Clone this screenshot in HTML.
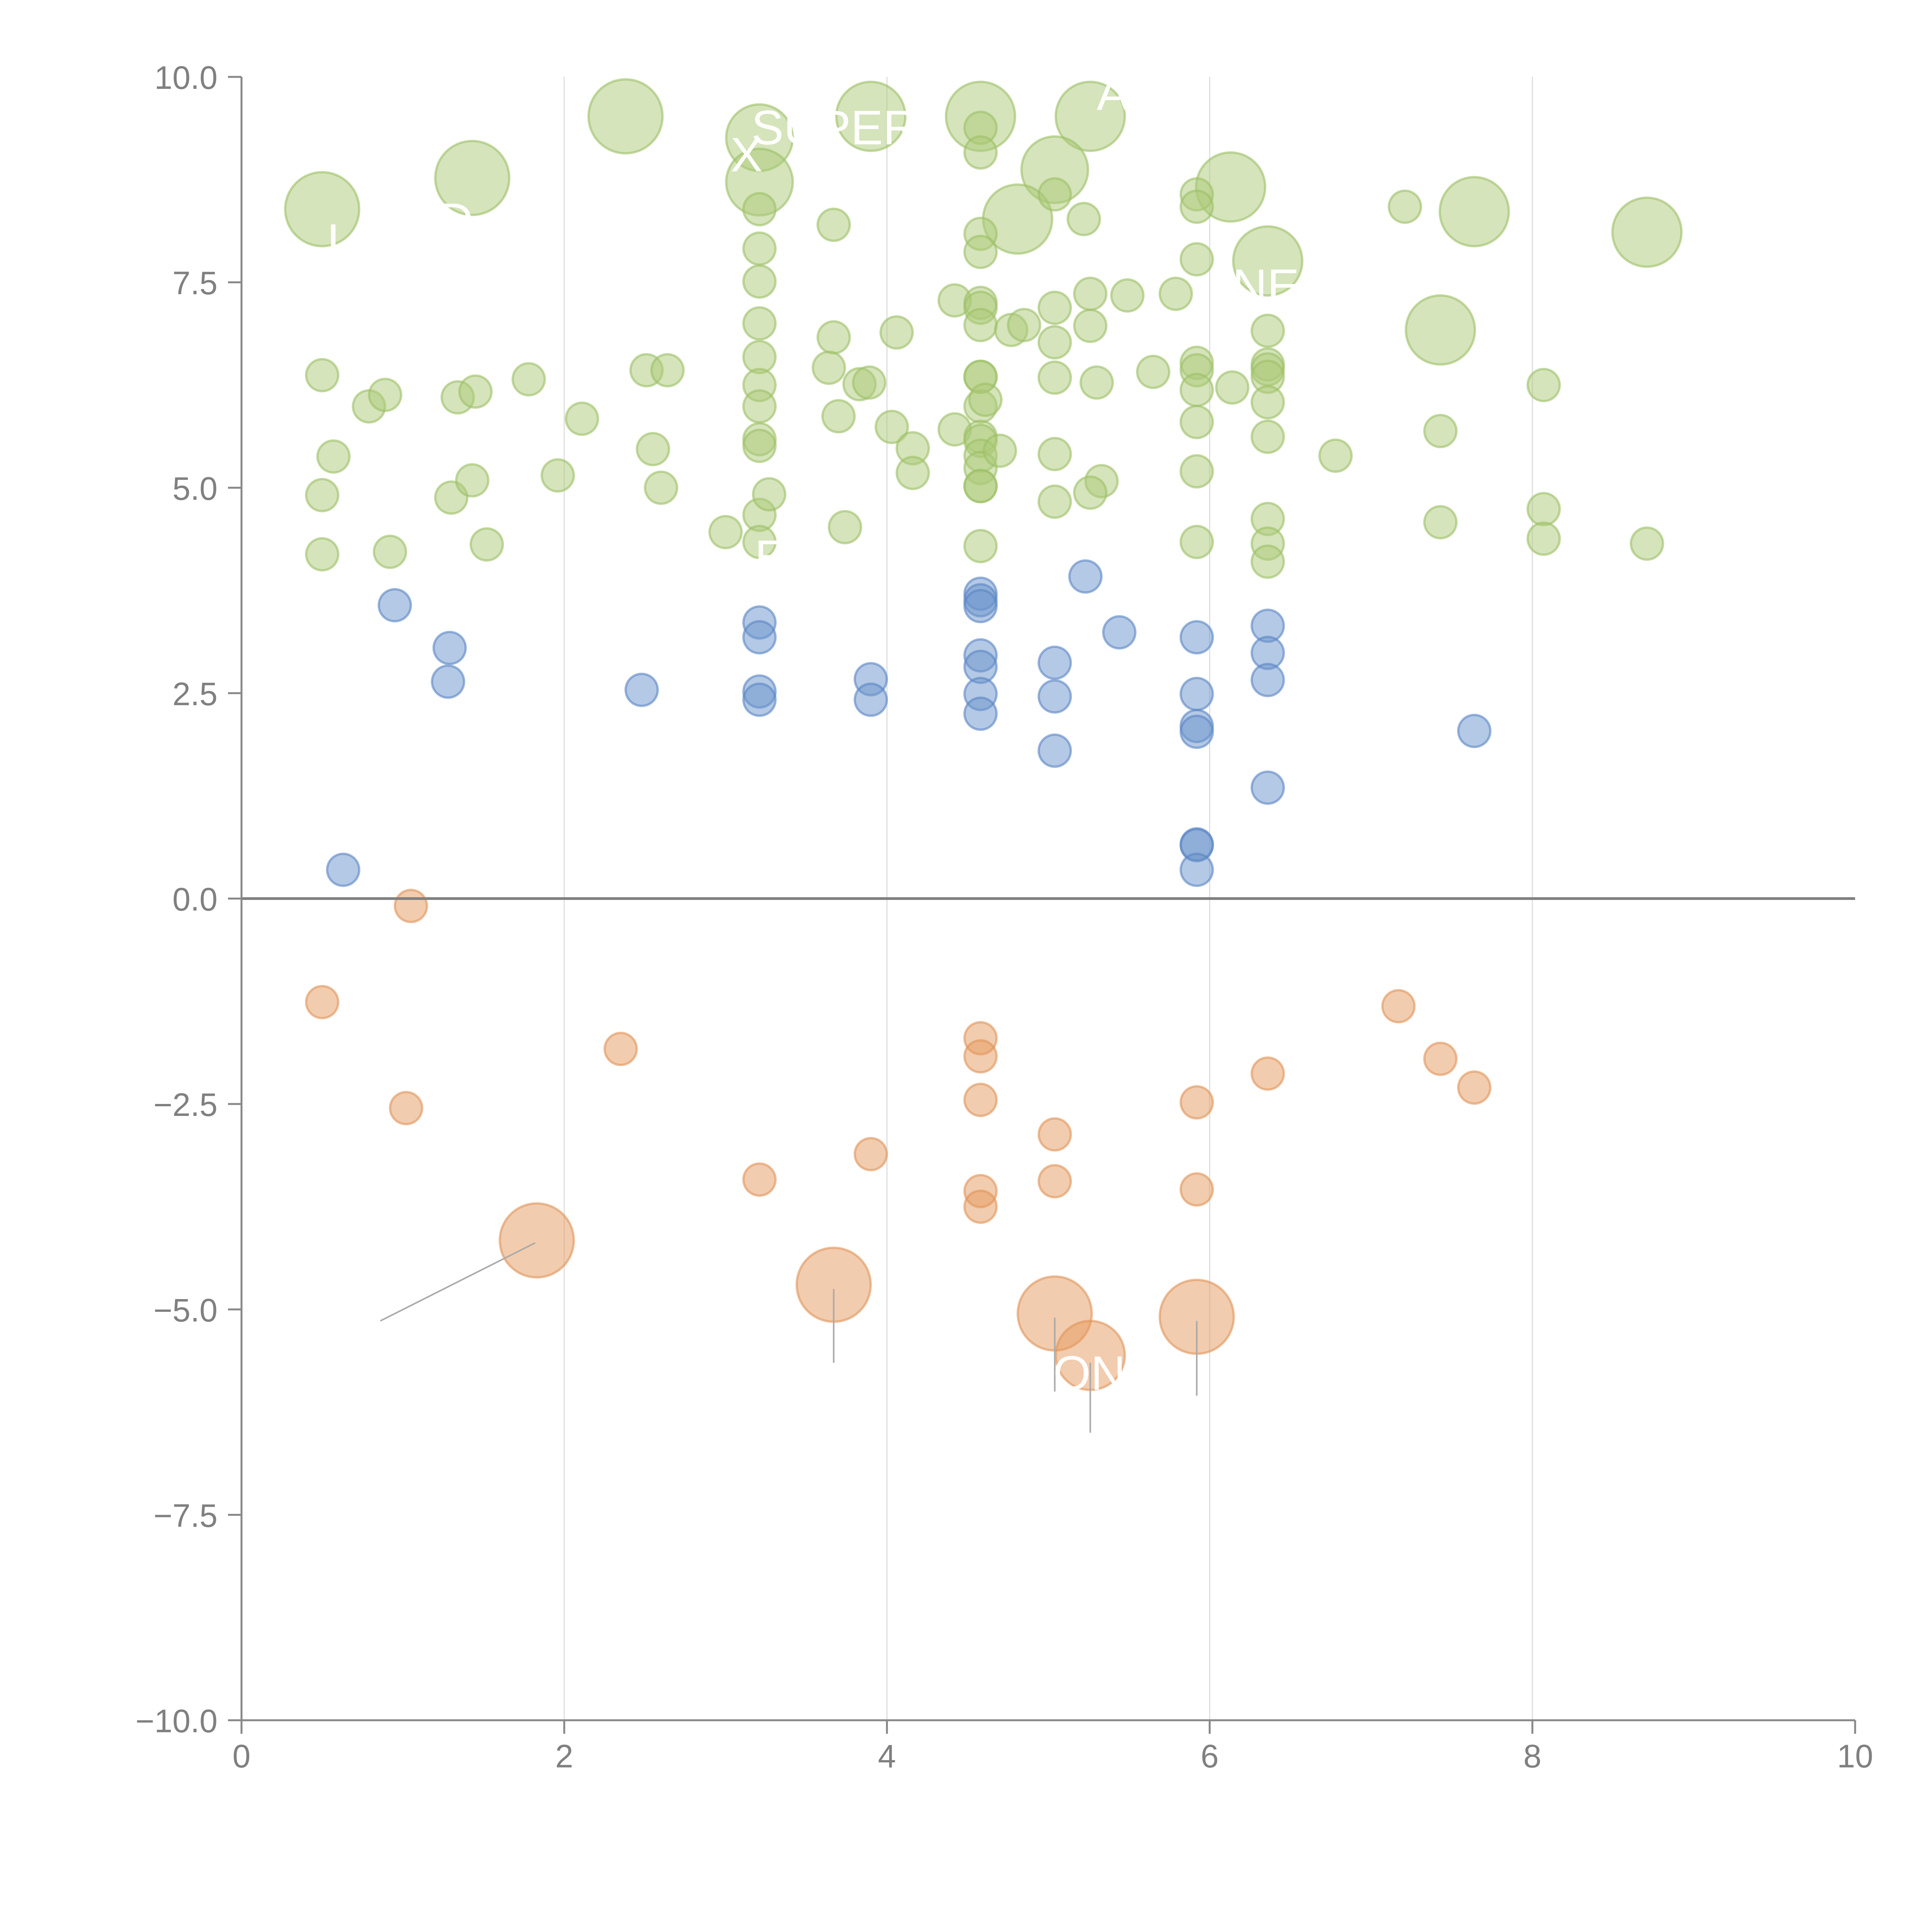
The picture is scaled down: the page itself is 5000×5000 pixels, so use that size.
<!DOCTYPE html>
<html><head><meta charset="utf-8"><style>html,body{margin:0;padding:0;background:#fff}svg{display:block}</style></head>
<body>
<svg id="chart" width="5000" height="5000" viewBox="0 0 5000 5000" xmlns="http://www.w3.org/2000/svg" font-family="Liberation Sans, Arial, sans-serif"></svg>
<script>
const xTicks=[0,2,4,6,8,10];
const xTickLabels=["0","2","4","6","8","10"];
const yTicks=[-10,-7.5,-5,-2.5,0,2.5,5,7.5,10];
const yTickLabels=["\u221210.0","\u22127.5","\u22125.0","\u22122.5","0.0","2.5","5.0","7.5","10.0"];

const greenX=[0.50,1.43,2.38,3.21,3.21,3.90,4.58,5.26,5.04,4.81,6.13,6.36,7.64,8.71,7.43,
0.50,0.57,0.50,0.50,0.79,0.89,0.92,1.30,1.34,1.43,1.45,1.52,1.78,1.96,2.11,2.51,2.64,2.55,2.60,3.00,
3.21,3.21,3.21,3.21,3.21,3.21,3.21,3.21,3.21,3.21,3.27,3.21,3.67,3.67,3.64,3.70,3.74,3.83,3.89,4.03,4.06,4.16,4.16,4.42,4.42,
4.58,4.58,4.58,4.58,4.58,4.58,4.58,4.58,4.58,4.58,4.61,4.58,4.58,4.58,4.58,4.58,4.58,4.70,4.58,4.77,4.85,
5.04,5.04,5.04,5.04,5.04,5.04,5.22,5.26,5.26,5.30,5.33,5.26,5.49,5.65,5.79,
5.92,5.92,5.92,5.92,5.92,5.92,5.92,5.92,5.92,6.14,6.36,6.36,6.36,6.36,6.36,6.36,6.36,6.36,6.36,6.78,7.21,7.43,7.43,8.07,8.07,8.07,8.71];
const greenY=[8.39,8.77,9.52,9.26,8.72,9.52,9.52,9.52,8.87,8.27,8.66,7.76,8.36,8.11,6.92,
6.37,5.38,4.91,4.19,5.99,6.13,4.22,4.88,6.10,5.09,6.17,4.31,6.32,5.15,5.84,6.43,6.43,5.47,5.00,4.46,
8.39,7.91,7.51,7.00,6.59,6.25,5.99,5.59,5.51,4.67,4.92,4.34,8.20,6.83,6.46,5.87,4.52,6.26,6.28,5.74,6.89,5.48,5.18,7.28,5.71,
9.38,9.08,8.09,7.87,7.25,7.19,6.98,6.35,6.35,5.99,6.07,5.62,5.57,5.39,5.24,5.02,5.02,5.45,4.29,6.92,6.98,
8.57,7.19,6.77,6.34,5.41,4.83,8.27,7.36,6.97,6.28,5.08,4.94,7.34,6.41,7.36,
8.57,8.42,7.78,6.52,6.43,6.19,5.80,5.20,4.34,6.22,6.91,6.50,6.44,6.35,6.04,5.62,4.62,4.32,4.10,5.39,8.42,5.69,4.58,6.25,4.74,4.38,4.32];
const greenSize=[30,30,30,27,27,28,28,28,27,28,28,28,28,28,28];

const blueX=[0.63,0.95,1.29,1.28,2.48,3.21,3.21,3.21,3.21,3.90,3.90,4.58,4.58,4.58,4.58,4.58,4.58,4.58,5.04,5.04,5.04,5.23,5.44,5.92,5.92,5.92,5.92,5.92,5.92,5.92,6.36,6.36,6.36,6.36,7.64];
const blueY=[0.35,3.57,3.05,2.64,2.54,3.36,3.18,2.52,2.42,2.67,2.42,3.71,3.63,3.56,2.96,2.82,2.49,2.25,2.87,2.46,1.80,3.92,3.24,3.18,2.49,2.10,2.03,0.66,0.65,0.35,3.32,2.99,2.66,1.35,2.04];

const orangeX=[1.05,0.50,1.02,2.35,3.21,3.90,4.58,4.58,4.58,4.58,4.58,5.04,5.04,5.92,5.92,6.36,7.17,7.43,7.64,1.83,3.67,5.04,5.26,5.92];
const orangeY=[-0.09,-1.26,-2.55,-1.83,-3.42,-3.11,-1.70,-1.92,-2.45,-3.56,-3.75,-2.87,-3.44,-2.48,-3.54,-2.13,-1.31,-1.95,-2.30,-4.16,-4.70,-5.05,-5.56,-5.09];
const orangeSize=[13,13,13,13,13,13,13,13,13,13,13,13,13,13,13,13,13,13,13,30,30,30,28,30];

const NS="http://www.w3.org/2000/svg";
const svg=document.getElementById('chart');
const X0=625,X1=4801,Y0=4452,Y1=199;
function sx(v){return X0+(v-0)/(10-0)*(X1-X0);}
function sy(v){return Y0-(v+10)/20*(Y0-Y1);}
function rs(s){return s*3.19;}
function mk(tag,attrs){const e=document.createElementNS(NS,tag);for(const k in attrs)e.setAttribute(k,attrs[k]);svg.appendChild(e);return e;}

xTicks.forEach((t,i)=>{
  if(t===0||t===10)return;
  const g=mk('line',{x1:sx(t),x2:sx(t),y1:Y1,y2:Y0,stroke:'#dedede','stroke-width':3});
  
  
});

function bubbles(xs,ys,sizes,fill,stroke,name){
  xs.forEach((x,i)=>{
    const s=sizes[i]!==undefined?sizes[i]:13;
    const c=mk('circle',{cx:sx(x),cy:sy(ys[i]),r:rs(s),fill:fill,'fill-opacity':0.5,stroke:stroke,'stroke-opacity':0.6,'stroke-width':6});
    
    
  });
}
bubbles(greenX,greenY,greenSize,'#acc978','#9dbf66','bubble-green');
bubbles(blueX,blueY,[],'#6a93cc','#5a86c4','bubble-blue');
bubbles(orangeX,orangeY,orangeSize,'#e59a5e','#e0955a','bubble-orange');

const leadFrom=[[0.86,-5.14],[3.67,-4.75],[5.04,-5.10],[5.26,-5.65],[5.92,-5.14]];
const leadTo=[[1.82,-4.19],[3.67,-5.65],[5.04,-6.0],[5.26,-6.5],[5.92,-6.05]];
leadFrom.forEach((p,i)=>{
  const l=mk('line',{x1:sx(p[0]),y1:sy(p[1]),x2:sx(leadTo[i][0]),y2:sy(leadTo[i][1]),stroke:'#aaa','stroke-width':4});
  
  
});

const labelText=["SUPER","A","X","D","L","NE","ON","E"];
const labelX=[3.16,5.30,3.03,1.22,0.53,6.14,5.03,3.18];
const labelY=[9.18,9.6,8.85,8.05,7.8,7.25,-5.98,3.95];
labelText.forEach((t,i)=>{
  const e=mk('text',{x:sx(labelX[i]),y:sy(labelY[i]),fill:'#fff','font-size':125});
  e.textContent=t;
  
  
});

const z=mk('line',{x1:X0,x2:X1,y1:sy(0),y2:sy(0),stroke:'#808080','stroke-width':7});



const ya=mk('line',{x1:X0,x2:X0,y1:Y1,y2:Y0,stroke:'#888','stroke-width':5});


const xa=mk('line',{x1:X0,x2:X1,y1:Y0,y2:Y0,stroke:'#888','stroke-width':5});



yTicks.forEach((t,i)=>{
  const tk=mk('line',{x1:X0-35,x2:X0,y1:sy(t),y2:sy(t),stroke:'#888','stroke-width':5});
  
  
  const lb=mk('text',{x:X0-62,y:sy(t)+31,'text-anchor':'end',fill:'#808080','font-size':84});
  lb.textContent=yTickLabels[i];
  
  
});
xTicks.forEach((t,i)=>{
  const tk=mk('line',{x1:sx(t),x2:sx(t),y1:Y0,y2:Y0+35,stroke:'#888','stroke-width':5});
  
  
  const lb=mk('text',{x:sx(t),y:Y0+122,'text-anchor':'middle',fill:'#808080','font-size':84});
  lb.textContent=xTickLabels[i];
  
  
});
</script>
</body></html>
